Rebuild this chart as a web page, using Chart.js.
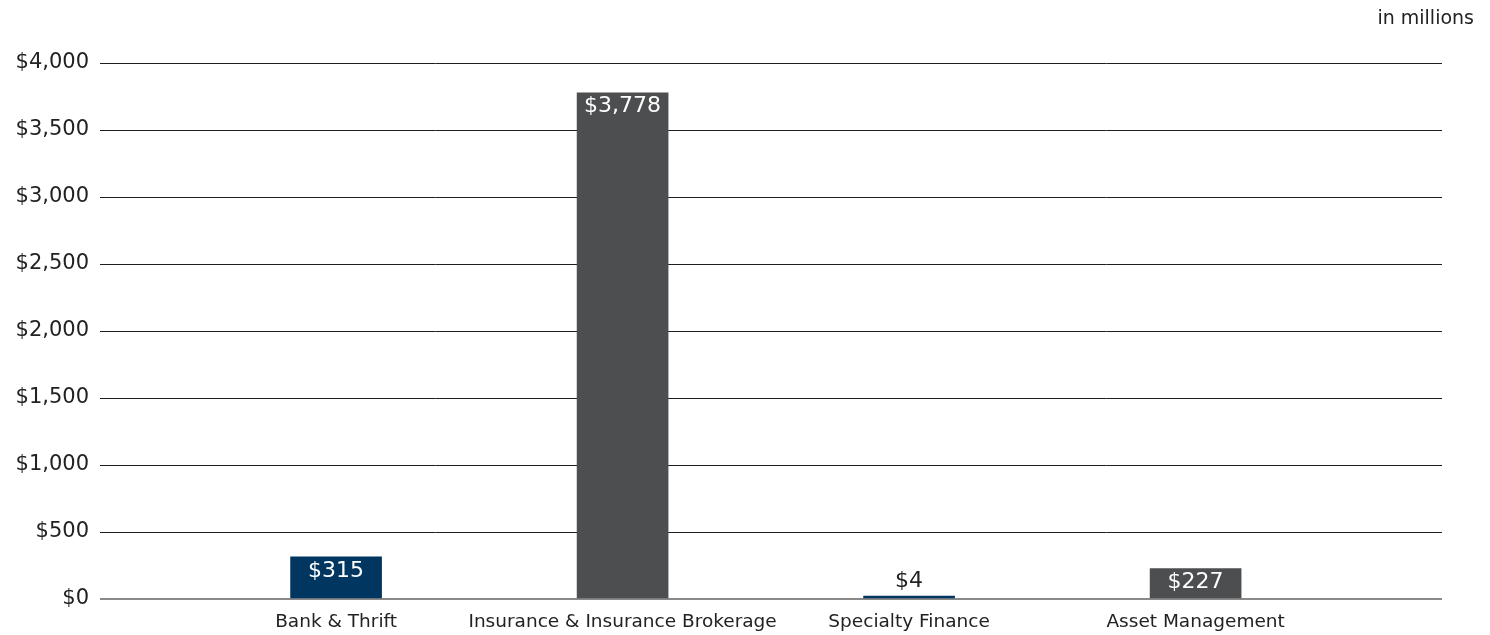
<!DOCTYPE html>
<html>
<head>
<meta charset="utf-8">
<script src="https://cdn.jsdelivr.net/npm/chart.js@4.4.1/dist/chart.umd.min.js"></script>
<style>
    body { margin: 0; background: #fff; }
    #wrap { position: relative; width: 1490px; height: 635px; }
    #unidade { position: absolute; right: 16px; top: 6px; font: 19px "DejaVu Sans", sans-serif; color: #222; }
</style>
</head>
<body>
<div id="wrap">
    <div id="unidade">in millions</div>
    <canvas id="chartSetores" width="1490" height="635"></canvas>
</div>
<script>
// valores em milhoes de dolares
const categorias = ['Bank & Thrift', 'Insurance & Insurance Brokerage', 'Specialty Finance', 'Asset Management'];
const valores = [315, 3778, 4, 227];
const cores = ['#00365f', '#4d4e50', '#00365f', '#4d4e50'];
const ticksY = [0, 500, 1000, 1500, 2000, 2500, 3000, 3500, 4000];

const formatarDolar = (v) => '$' + v.toLocaleString('en-US');

// rotulo de valor: dentro da barra (branco) ou acima quando a barra e baixa
const rotuloValor = {
    id: 'rotuloValor',
    afterDatasetsDraw(chart) {
        const ctx = chart.ctx;
        const meta = chart.getDatasetMeta(0);
        ctx.save();
        ctx.font = '22px "DejaVu Sans", sans-serif';
        ctx.textAlign = 'center';
        meta.data.forEach((bar, i) => {
            const texto = formatarDolar(valores[i]);
            if (bar.base - bar.y > 24) {
                ctx.fillStyle = '#ffffff';
                ctx.textBaseline = 'middle';
                ctx.fillText(texto, bar.x, bar.y + 14);
            } else {
                ctx.fillStyle = '#222222';
                ctx.textBaseline = 'bottom';
                ctx.fillText(texto, bar.x, bar.y - 4);
            }
        });
        ctx.restore();
    }
};

const ctx = document.getElementById('chartSetores');
new Chart(ctx, {
    type: 'bar',
    data: {
        datasets: [{
            data: valores.map((v, i) => ({ x: i, y: v })),
            backgroundColor: cores,
            barThickness: 91,
            minBarLength: 3
        }]
    },
    options: {
        responsive: false,
        animation: false,
        layout: { padding: { top: 63, right: 48, left: 0, bottom: 0 } },
        plugins: {
            legend: { display: false },
            tooltip: { enabled: false }
        },
        scales: {
            x: {
                type: 'linear',
                offset: false,
                min: -0.824,
                max: 3.86,
                grid: { display: false },
                border: { display: false },
                afterBuildTicks: (scale) => {
                    scale.ticks = categorias.map((c, i) => ({ value: i }));
                },
                afterFit: (scale) => { scale.height = 36; },
                ticks: {
                    autoSkip: false,
                    maxRotation: 0,
                    padding: 4,
                    color: '#222',
                    font: { family: '"DejaVu Sans", sans-serif', size: 18.5 },
                    callback: (value) => categorias[value] ?? ''
                }
            },
            y: {
                min: 0,
                max: 4000,
                afterBuildTicks: (scale) => {
                    scale.ticks = ticksY.map(v => ({ value: v }));
                },
                afterFit: (scale) => { scale.width = 100; },
                border: { display: false },
                grid: {
                    drawTicks: false,
                    color: (c) => c.tick && c.tick.value === 0 ? '#8a8a8a' : '#1e1e1e',
                    lineWidth: (c) => c.tick && c.tick.value === 0 ? 2 : 1
                },
                ticks: {
                    padding: 11,
                    color: '#222',
                    font: { family: '"DejaVu Sans", sans-serif', size: 21 },
                    callback: (value) => formatarDolar(value)
                }
            }
        }
    },
    plugins: [rotuloValor]
});
</script>
</body>
</html>
